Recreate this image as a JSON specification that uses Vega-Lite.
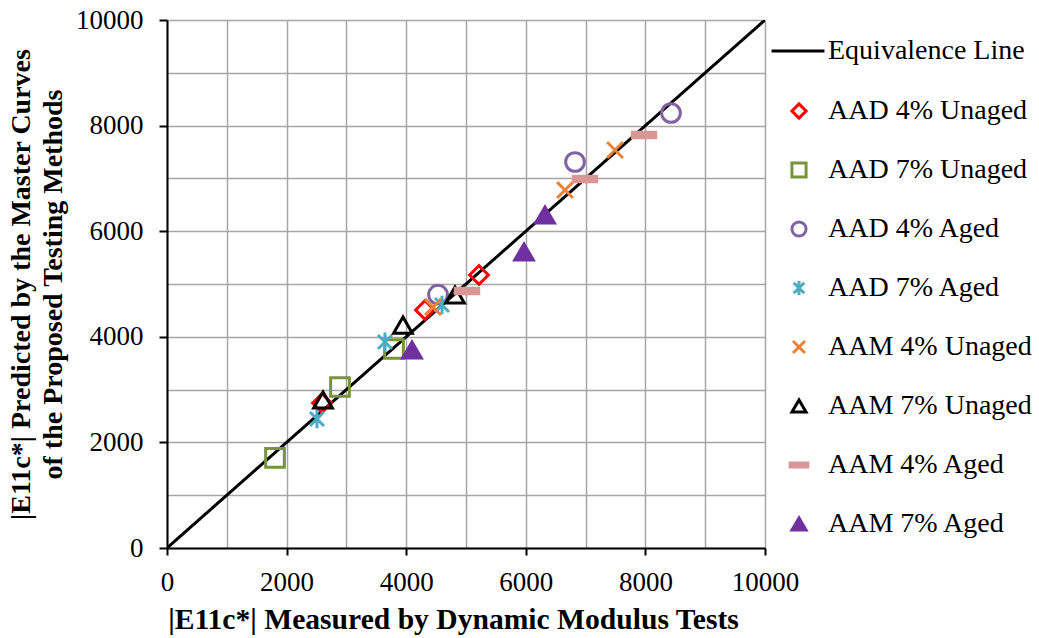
{
  "$schema": "https://vega.github.io/schema/vega-lite/v6.json",
  "autosize": {"type": "none"},
  "padding": {"left": 167, "top": 20, "right": 274, "bottom": 90},
  "width": 598,
  "height": 528,
  "background": "white",
  "config": {
    "font": "Liberation Serif",
    "view": {"stroke": null},
    "axis": {"labelFont": "Liberation Serif", "titleFont": "Liberation Serif", "labelColor": "black", "titleColor": "black"},
    "legend": {"labelFont": "Liberation Serif", "labelColor": "black"}
  },
  "datasets": {
    "pts": [
      {"x": 1806, "y": 1705, "series": "AAD 7% Unaged"},
      {"x": 2893, "y": 3049, "series": "AAD 7% Unaged"},
      {"x": 3796, "y": 3769, "series": "AAD 7% Unaged"},
      {"x": 2592, "y": 2746, "series": "AAD 4% Unaged"},
      {"x": 4314, "y": 4508, "series": "AAD 4% Unaged"},
      {"x": 5217, "y": 5170, "series": "AAD 4% Unaged"},
      {"x": 4532, "y": 4800, "series": "AAD 4% Aged"},
      {"x": 6823, "y": 7311, "series": "AAD 4% Aged"},
      {"x": 8428, "y": 8239, "series": "AAD 4% Aged"},
      {"x": 2508, "y": 2443, "series": "AAD 7% Aged"},
      {"x": 3645, "y": 3902, "series": "AAD 7% Aged"},
      {"x": 4599, "y": 4602, "series": "AAD 7% Aged"},
      {"x": 4448, "y": 4564, "series": "AAM 4% Unaged"},
      {"x": 6656, "y": 6780, "series": "AAM 4% Unaged"},
      {"x": 7492, "y": 7538, "series": "AAM 4% Unaged"},
      {"x": 2609, "y": 2803, "series": "AAM 7% Unaged"},
      {"x": 3946, "y": 4223, "series": "AAM 7% Unaged"},
      {"x": 4816, "y": 4792, "series": "AAM 7% Unaged"},
      {"x": 5017, "y": 4867, "series": "AAM 4% Aged"},
      {"x": 6990, "y": 6989, "series": "AAM 4% Aged"},
      {"x": 7977, "y": 7822, "series": "AAM 4% Aged"},
      {"x": 4097, "y": 3750, "series": "AAM 7% Aged"},
      {"x": 5970, "y": 5606, "series": "AAM 7% Aged"},
      {"x": 6321, "y": 6307, "series": "AAM 7% Aged"}
    ],
    "line": [
      {"x": 0, "y": 0, "lt": "Equivalence Line"},
      {"x": 10000, "y": 10000, "lt": "Equivalence Line"}
    ]
  },
  "encoding": {
    "x": {"field": "x", "type": "quantitative", "scale": {"domain": [0, 10000], "nice": false},
      "axis": {"values": [0,1000,2000,3000,4000,5000,6000,7000,8000,9000,10000],
        "labelExpr": "datum.value % 2000 === 0 ? datum.label : ''",
        "labelOverlap": false,
        "labelFlush": false,
        "format": "d",
        "grid": true, "gridColor": "#a6a6a6", "gridWidth": 1.5,
        "domainColor": "black", "domainWidth": 2,
        "tickColor": {"condition": {"test": "datum.value % 2000 === 0", "value": "black"}, "value": "transparent"},
        "tickSize": 7, "tickWidth": 2,
        "labelFont": "Liberation Serif", "labelFontSize": 27, "labelPadding": 14,
        "title": "|E11c*| Measured by Dynamic Modulus Tests",
        "titleFont": "Liberation Serif", "titleFontSize": 29.6, "titleFontWeight": "bold", "titlePadding": 10, "titleX": 286}},
    "y": {"field": "y", "type": "quantitative", "scale": {"domain": [0, 10000], "nice": false},
      "axis": {"values": [0,1000,2000,3000,4000,5000,6000,7000,8000,9000,10000],
        "labelExpr": "datum.value % 2000 === 0 ? datum.label : ''",
        "labelOverlap": false,
        "labelFlush": false,
        "format": "d",
        "grid": true, "gridColor": "#a6a6a6", "gridWidth": 1.5,
        "domainColor": "black", "domainWidth": 2,
        "tickColor": {"condition": {"test": "datum.value % 2000 === 0", "value": "black"}, "value": "transparent"},
        "tickSize": 8, "tickWidth": 2,
        "labelFont": "Liberation Serif", "labelFontSize": 27, "labelPadding": 16,
        "title": ["|E11c*| Predicted by the Master Curves", "of the Proposed Testing Methods"],
        "titleFont": "Liberation Serif", "titleFontSize": 28, "titleFontWeight": "bold", "titlePadding": 8, "titleLineHeight": 32}}
  },
  "layer": [
    {
      "data": {"name": "line"},
      "mark": {"type": "line", "color": "black", "strokeWidth": 3, "clip": true},
      "encoding": {
        "strokeDash": {"field": "lt", "type": "nominal",
          "scale": {"domain": ["Equivalence Line"], "range": [[1, 0]]},
          "legend": {"title": null, "orient": "none", "legendX": 603, "legendY": 3,
            "symbolType": "stroke", "symbolSize": 2800, "symbolStrokeWidth": 3, "symbolStrokeColor": "black",
            "labelFontSize": 28, "labelOffset": 2, "labelLimit": 400}}
      }
    },
    {
      "data": {"name": "pts"},
      "mark": {"type": "point", "filled": false, "size": 350, "strokeWidth": 3, "opacity": 1},
      "encoding": {
        "shape": {"field": "series", "type": "nominal",
          "scale": {"domain": ["AAD 4% Unaged", "AAD 7% Unaged", "AAD 4% Aged", "AAD 7% Aged", "AAM 4% Unaged", "AAM 7% Unaged", "AAM 4% Aged", "AAM 7% Aged"],
            "range": ["diamond", "square", "circle",
              "M-0.75,-0.75L0.75,0.75M-0.75,0.75L0.75,-0.75M0,-1L0,1",
              "M-0.85,-0.85L0.85,0.85M-0.85,0.85L0.85,-0.85",
              "triangle-up",
              "M-1.25,-0.3H1.25V0.3H-1.25Z",
              "triangle-up"]},
          "legend": {"title": null, "orient": "none", "legendX": 618, "legendY": 77,
            "symbolSize": 200, "symbolStrokeWidth": 3, "labelFontSize": 28, "rowPadding": 31, "labelOffset": 15, "labelLimit": 400}},
        "stroke": {"field": "series", "type": "nominal",
          "scale": {"domain": ["AAD 4% Unaged", "AAD 7% Unaged", "AAD 4% Aged", "AAD 7% Aged", "AAM 4% Unaged", "AAM 7% Unaged", "AAM 4% Aged", "AAM 7% Aged"],
            "range": ["#ff0000", "#77933c", "#8064a2", "#4bacc6", "#e8843a", "#000000", "#d99694", "#7030a0"]},
          "legend": {"title": null, "orient": "none", "legendX": 618, "legendY": 77,
            "symbolSize": 200, "symbolStrokeWidth": 3, "labelFontSize": 28, "rowPadding": 31, "labelOffset": 15, "labelLimit": 400}},
        "fill": {"field": "series", "type": "nominal",
          "scale": {"domain": ["AAD 4% Unaged", "AAD 7% Unaged", "AAD 4% Aged", "AAD 7% Aged", "AAM 4% Unaged", "AAM 7% Unaged", "AAM 4% Aged", "AAM 7% Aged"],
            "range": ["transparent", "transparent", "transparent", "transparent", "transparent", "transparent", "#d99694", "#7030a0"]},
          "legend": {"title": null, "orient": "none", "legendX": 618, "legendY": 77,
            "symbolSize": 200, "symbolStrokeWidth": 3, "labelFontSize": 28, "rowPadding": 31, "labelOffset": 15, "labelLimit": 400}}
      }
    }
  ]
}
